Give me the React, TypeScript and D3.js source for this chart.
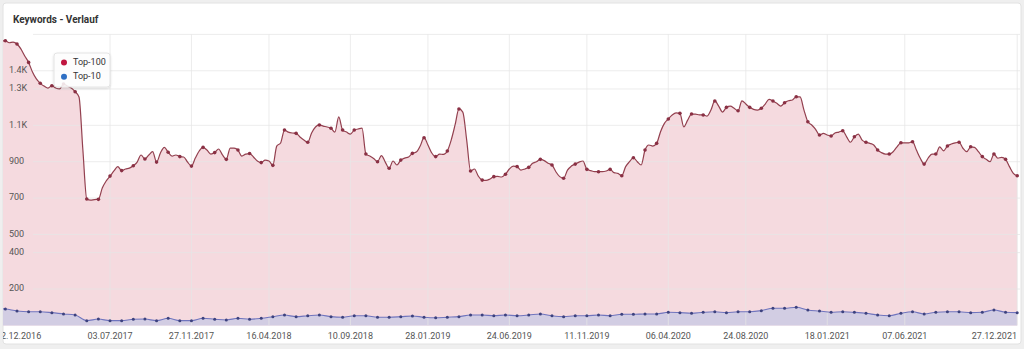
import React from "react";
import * as d3 from "d3";

// ---- data ----
const START_DATE = "12.12.2016";
const END_DATE = "27.12.2021";
const X_TICK_LABELS = [
  "12.12.2016", "03.07.2017", "27.11.2017", "16.04.2018", "10.09.2018", "28.01.2019",
  "24.06.2019", "11.11.2019", "06.04.2020", "24.08.2020", "18.01.2021", "07.06.2021", "27.12.2021",
];
const Y_TICKS = [200, 400, 500, 700, 900, 1100, 1300, 1400];
const Y_LABELS = ["200", "400", "500", "700", "900", "1.1K", "1.3K", "1.4K"];
const Y_MAX = 1600;

// weekly values, Top-100 (week 0 = 12.12.2016)
const TOP100 = [
  1569, 1563, 1565, 1554, 1558, 1547, 1520, 1481, 1446, 1393,
  1355, 1331, 1316, 1305, 1318, 1305, 1300, 1327, 1316, 1305,
  1285, 1256, 964, 695, 689, 692, 693, 755, 794, 821,
  849, 873, 851, 860, 865, 878, 898, 937, 915, 937,
  955, 898, 948, 979, 952, 931, 937, 928, 926, 898,
  876, 920, 959, 979, 964, 942, 950, 970, 937, 913,
  975, 975, 964, 931, 942, 945, 926, 904, 895, 909,
  904, 880, 986, 1003, 1074, 1063, 1058, 1056, 1036, 1019,
  1007, 1058, 1091, 1102, 1096, 1091, 1084, 1063, 1146, 1074,
  1063, 1052, 1074, 1080, 1085, 942, 931, 918, 900, 934,
  898, 864, 904, 882, 909, 920, 926, 946, 953, 986,
  1032, 992, 948, 928, 942, 940, 959, 1019, 1102, 1190,
  1173, 1019, 849, 860, 821, 799, 797, 805, 818, 819,
  816, 831, 860, 876, 873, 854, 860, 869, 891, 900,
  913, 906, 891, 882, 845, 818, 809, 854, 876, 887,
  898, 904, 858, 851, 845, 845, 845, 849, 858, 840,
  836, 823, 873, 900, 922, 900, 882, 964, 992, 986,
  1001, 1065, 1111, 1135, 1157, 1169, 1166, 1092, 1129, 1162,
  1162, 1157, 1157, 1151, 1184, 1234, 1206, 1173, 1199, 1206,
  1194, 1180, 1235, 1217, 1199, 1188, 1184, 1194, 1217, 1243,
  1234, 1221, 1206, 1224, 1235, 1239, 1257, 1256, 1184, 1120,
  1102, 1078, 1047, 1056, 1047, 1041, 1058, 1063, 1070, 1037,
  1007, 1037, 1052, 1019, 1007, 1001, 992, 964, 950, 942,
  942, 955, 982, 1004, 1004, 1004, 1010, 964, 919, 887,
  919, 942, 942, 982, 960, 986, 997, 1004, 1007, 974,
  955, 982, 979, 955, 928, 913, 900, 942, 919, 924,
  913, 873, 836, 823,
];

// Top-10: week 0, then every third week from week 2
const TOP10 = [
  92,
  90, 79, 75, 75, 70, 63, 57, 26, 35, 26, 26, 34, 35, 26, 39, 26, 26, 39, 34, 30, 39, 34, 39,
  48, 57, 48, 53, 57, 48, 45, 53, 53, 45, 45, 48, 52, 45, 42, 45, 48, 57, 57, 53, 57,
  53, 57, 63, 53, 48, 53, 53, 57, 53, 61, 61, 63, 63, 72, 70, 67, 72, 75, 70, 75,
  75, 81, 94, 94, 100, 85, 79, 72, 75, 72, 67, 57, 53, 67, 75, 63, 72, 75, 75, 70,
  72, 85, 72, 70,
];

const SERIES_NAMES = ["Top-100", "Top-10"];
const SERIES_COLORS = ["#c0163f", "#2f70c4"];

// ---- helpers ----
const W = 1024;
const H = 349;
const DAY = 864e5;
function parseDE(s: string): Date {
  const [d, m, y] = s.split(".").map(Number);
  return new Date(Date.UTC(y, m - 1, d));
}
const start = parseDE(START_DATE);
const weekDate = (k: number) => new Date(start.getTime() + k * 7 * DAY);

const top100Data = TOP100.map((v, k) => ({ k, date: weekDate(k), v }));
const top10Weeks = [0, ...d3.range(2, TOP100.length, 3)];
const top10Data = TOP10.map((v, i) => ({ k: top10Weeks[i], date: weekDate(top10Weeks[i]), v }));

export default function App() {
  const x = d3.scaleUtc().domain([start, parseDE(END_DATE)]).range([-2.4, 1017.2]);
  const y = d3.scaleLinear().domain([0, Y_MAX]).range([325.4, 34.4]);

  const area = d3
    .area<{ date: Date; v: number }>()
    .x((d) => x(d.date))
    .y0(y(0))
    .y1((d) => y(d.v))
    .curve(d3.curveMonotoneX);
  const line = d3
    .line<{ date: Date; v: number }>()
    .x((d) => x(d.date))
    .y((d) => y(d.v))
    .curve(d3.curveMonotoneX);

  const font = "Roboto, 'Open Sans', Arial, sans-serif";
  const gridX0 = 33;
  const gridX1 = 1020;
  const gridVals = [...Y_TICKS, Y_MAX];

  return (
    <svg
      width={W}
      height={H}
      style={{ position: "absolute", left: 0, top: 0, display: "block" }}
      fontFamily={font}
    >
      <defs>
        <clipPath id="plotClip">
          <rect x={3} y={0} width={1018} height={H} />
        </clipPath>
        <filter id="legShadow" x="-20%" y="-20%" width="140%" height="160%">
          <feDropShadow dx="0" dy="1" stdDeviation="1.2" floodColor="#000" floodOpacity="0.15" />
        </filter>
      </defs>
      <rect x={0} y={0} width={W} height={H} fill="#efefef" />
      <rect x={3} y={3} width={1018} height={341} rx={3} fill="#ffffff" stroke="#e2e2e2" />

      <text x={13} y={23} fontSize={10} fontWeight="bold" fill="#333">
        Keywords - Verlauf
      </text>

      <g clipPath="url(#plotClip)">
        <path d={area(top100Data) || ""} fill="#f5dadf" />
        <path d={area(top10Data) || ""} fill="#d2cde3" />

        {gridVals.map((v) => (
          <line key={"gy" + v} x1={gridX0} x2={gridX1} y1={y(v)} y2={y(v)} stroke="#e6e6e6" strokeOpacity={0.75} />
        ))}
        {X_TICK_LABELS.map((s) => (
          <line
            key={"gx" + s}
            x1={x(parseDE(s))}
            x2={x(parseDE(s))}
            y1={y(Y_MAX)}
            y2={y(0)}
            stroke="#e6e6e6"
            strokeOpacity={0.75}
          />
        ))}

        <path d={line(top100Data) || ""} fill="none" stroke="#93404f" strokeWidth={1.2} />
        <path d={line(top10Data) || ""} fill="none" stroke="#7075be" strokeWidth={1.1} />

        {top100Data
          .filter((d) => d.k % 3 === 2)
          .map((d) => (
            <circle key={"m1" + d.k} cx={x(d.date)} cy={y(d.v)} r={1.8} fill="#8a3044" />
          ))}
        {top10Data
          .filter((d) => d.k % 3 === 2)
          .map((d) => (
            <circle key={"m2" + d.k} cx={x(d.date)} cy={y(d.v)} r={1.5} fill="#3d427e" />
          ))}

        {X_TICK_LABELS.map((s, i) => {
          const last = i === X_TICK_LABELS.length - 1;
          const first = i === 0;
          const px = x(parseDE(s));
          return (
            <text
              key={"xl" + s}
              x={first ? -4 : last ? 1017 : px}
              y={337}
              fontSize={9}
              fill="#555"
              textAnchor={first ? "start" : last ? "end" : "middle"}
              dominantBaseline="middle"
            >
              {s}
            </text>
          );
        })}
      </g>

      {Y_TICKS.map((v, i) => (
        <text key={"yl" + v} x={9} y={y(v)} fontSize={9} fill="#555" dominantBaseline="middle">
          {Y_LABELS[i]}
        </text>
      ))}

      <g filter="url(#legShadow)">
        <rect x={54} y={53} width={56} height={34} rx={3} fill="#ffffff" fillOpacity={0.85} stroke="#e4e4e4" />
      </g>
      {SERIES_NAMES.map((n, i) => (
        <g key={n}>
          <circle cx={64} cy={62.5 + i * 14.3} r={3} fill={SERIES_COLORS[i]} />
          <text x={73} y={62.5 + i * 14.3} fontSize={9} fill="#333" dominantBaseline="middle">
            {n}
          </text>
        </g>
      ))}
    </svg>
  );
}
